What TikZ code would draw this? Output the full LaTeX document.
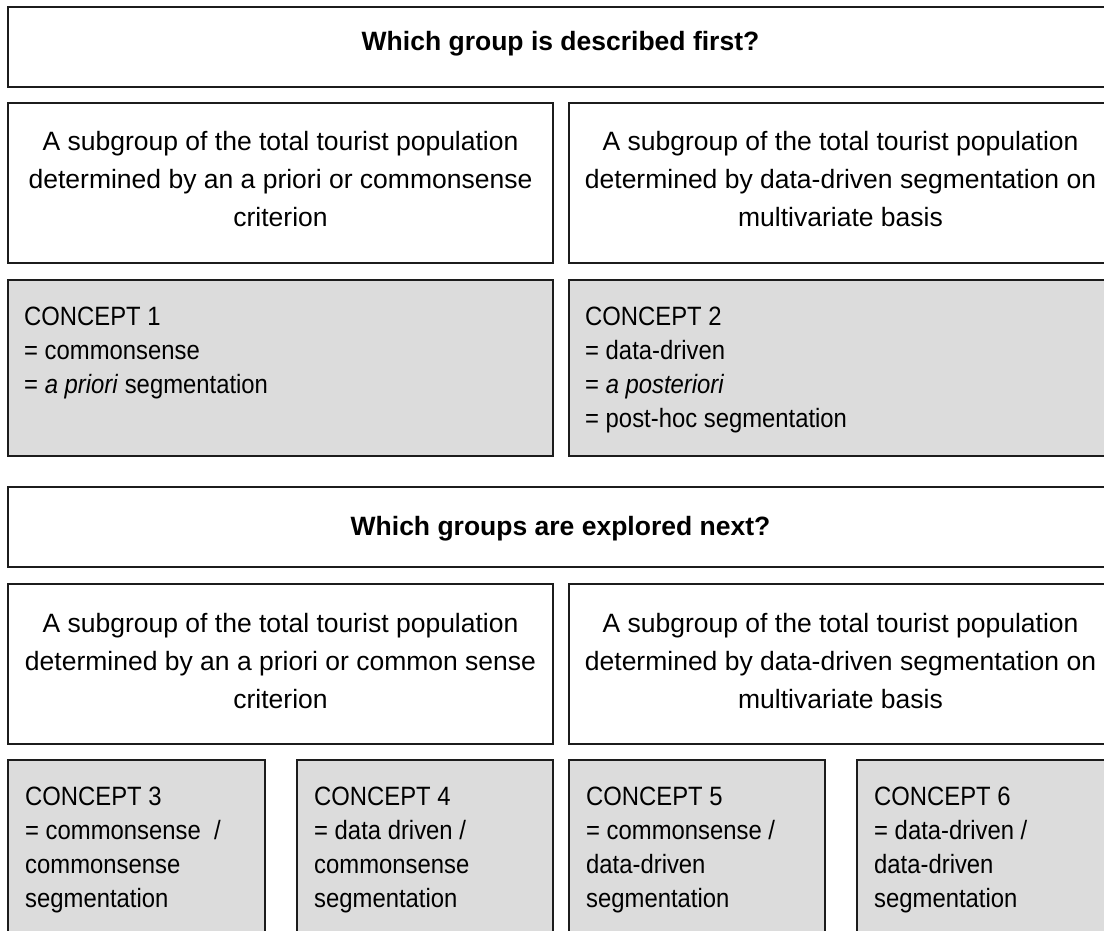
\documentclass[tikz,border=0pt]{standalone}
\usepackage{fontspec}
\setmainfont{Liberation Sans}
\newfontfamily\narrowfont[FakeStretch=0.9]{Liberation Sans}
\definecolor{boxgray}{RGB}{220,220,220}
\definecolor{edge}{RGB}{28,28,28}
\tikzset{
  frame/.style={draw=edge, line width=1.7pt, fill=white, inner sep=0pt, outer sep=0pt, anchor=north west},
  grayframe/.style={frame, fill=boxgray},
  ctr/.style={inner sep=0pt, anchor=base, font=\fontsize{26.5}{38}\selectfont},
  lft/.style={inner sep=0pt, anchor=base west, font=\narrowfont\fontsize{26.5}{34}\selectfont},
  ttl/.style={inner sep=0pt, anchor=base, font=\fontsize{26.5}{32}\selectfont\bfseries},
}
\begin{document}
\begin{tikzpicture}[x=1pt, y=-1pt]
\useasboundingbox (0,0) rectangle (1104,931);
\fill[white] (0,0) rectangle (1104,931);
\clip (0,0) rectangle (1104,931);

% first section
\node[frame, minimum width=1104pt, minimum height=80pt] (q1) at (8,7) {};
\node[ttl] (q1t) at (560.5,51) {Which group is described first?};

\node[frame, minimum width=545pt, minimum height=160pt] (d1) at (8,103) {};
\node[frame, minimum width=543pt, minimum height=160pt] (d2) at (569,103) {};
\node[ctr] (d1t) at (280.5,151) {\begin{tabular}[t]{@{}c@{}}A subgroup of the total tourist population\\determined by an a priori or commonsense\\criterion\end{tabular}};
\node[ctr] (d2t) at (840.5,151) {\begin{tabular}[t]{@{}c@{}}A subgroup of the total tourist population\\determined by data-driven segmentation on\\multivariate basis\end{tabular}};

\node[grayframe, minimum width=545pt, minimum height=176pt] (c1) at (8,280) {};
\node[grayframe, minimum width=543pt, minimum height=176pt] (c2) at (569,280) {};
\node[lft] (c1t) at (24,325) {\begin{tabular}[t]{@{}l@{}}CONCEPT 1\\= commonsense\\= \textit{a priori} segmentation\end{tabular}};
\node[lft] (c2t) at (585,325) {\begin{tabular}[t]{@{}l@{}}CONCEPT 2\\= data-driven\\= \textit{a posteriori}\\= post-hoc segmentation\end{tabular}};

% second section
\node[frame, minimum width=1104pt, minimum height=80pt] (q2) at (8,487) {};
\node[ttl] (q2t) at (560.5,535) {Which groups are explored next?};

\node[frame, minimum width=545pt, minimum height=160pt] (e1) at (8,584) {};
\node[frame, minimum width=543pt, minimum height=160pt] (e2) at (569,584) {};
\node[ctr] (e1t) at (280.5,632) {\begin{tabular}[t]{@{}c@{}}A subgroup of the total tourist population\\determined by an a priori or common sense\\criterion\end{tabular}};
\node[ctr] (e2t) at (840.5,632) {\begin{tabular}[t]{@{}c@{}}A subgroup of the total tourist population\\determined by data-driven segmentation on\\multivariate basis\end{tabular}};

\node[grayframe, minimum width=257pt, minimum height=190pt] (c3) at (8,760) {};
\node[grayframe, minimum width=256pt, minimum height=190pt] (c4) at (297,760) {};
\node[grayframe, minimum width=256pt, minimum height=190pt] (c5) at (569,760) {};
\node[grayframe, minimum width=256pt, minimum height=190pt] (c6) at (857,760) {};
\node[lft] (c3t) at (25,805) {\begin{tabular}[t]{@{}l@{}}CONCEPT 3\\= commonsense\ \ /\\commonsense\\segmentation\end{tabular}};
\node[lft] (c4t) at (314,805) {\begin{tabular}[t]{@{}l@{}}CONCEPT 4\\= data driven /\\commonsense\\segmentation\end{tabular}};
\node[lft] (c5t) at (586,805) {\begin{tabular}[t]{@{}l@{}}CONCEPT 5\\= commonsense /\\data-driven\\segmentation\end{tabular}};
\node[lft] (c6t) at (874,805) {\begin{tabular}[t]{@{}l@{}}CONCEPT 6\\= data-driven /\\data-driven\\segmentation\end{tabular}};
\end{tikzpicture}
\end{document}
